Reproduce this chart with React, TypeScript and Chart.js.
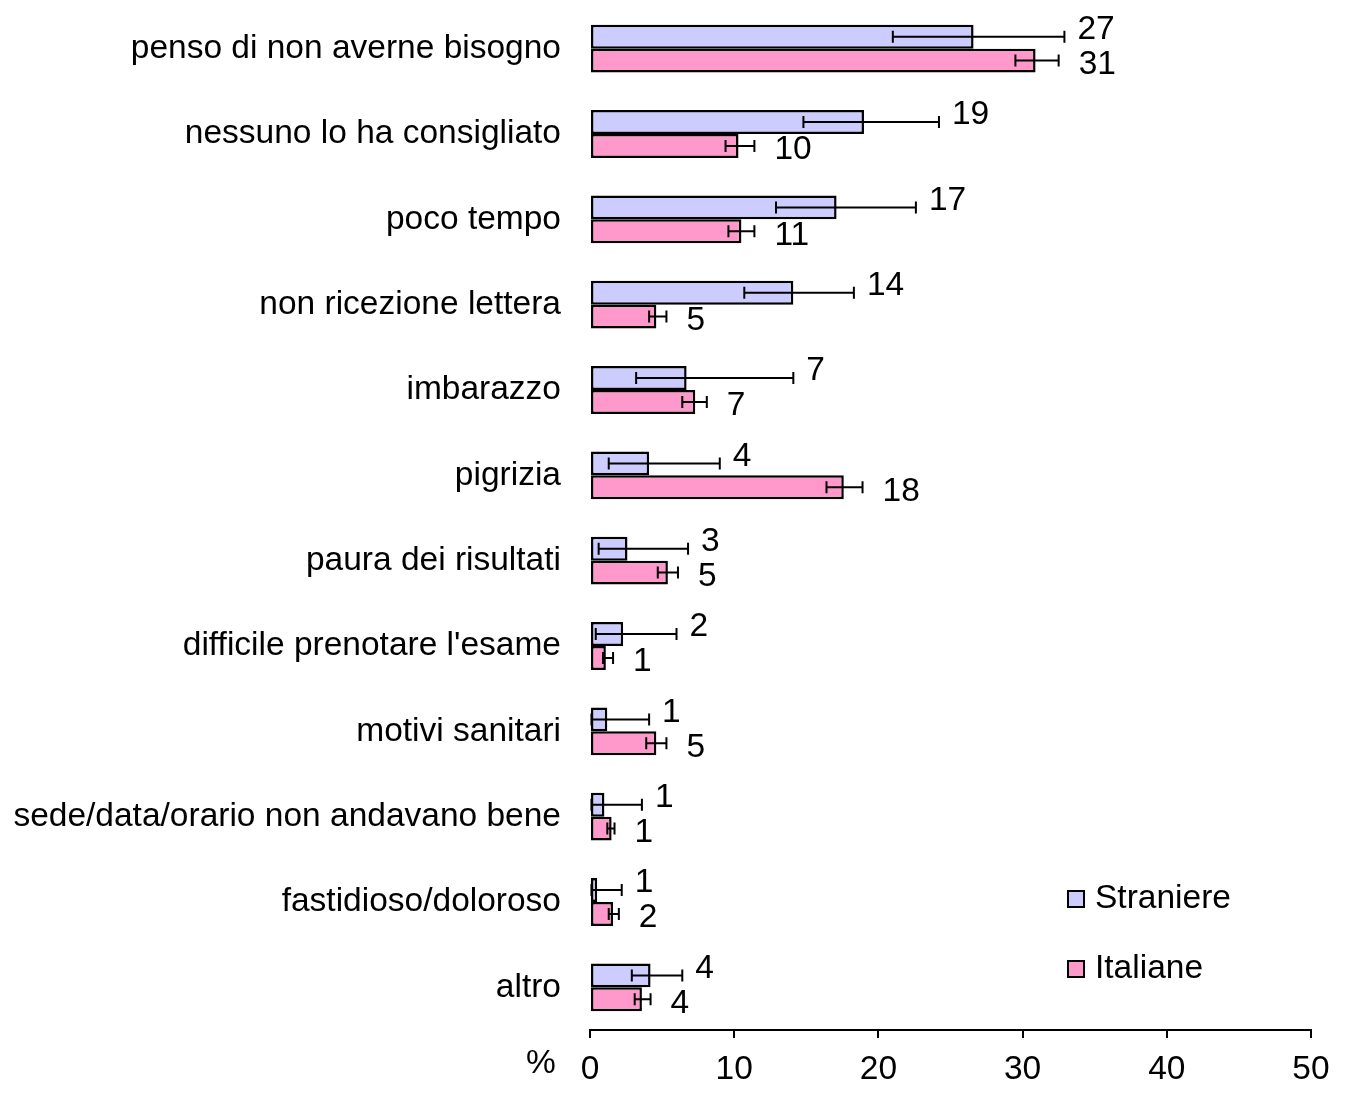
import React, { useEffect, useRef } from "react";
import { Chart, registerables } from "chart.js";

Chart.register(...registerables);

const categories = [
  "penso di non averne bisogno",
  "nessuno lo ha consigliato",
  "poco tempo",
  "non ricezione lettera",
  "imbarazzo",
  "pigrizia",
  "paura dei risultati",
  "difficile prenotare l'esame",
  "motivi sanitari",
  "sede/data/orario non andavano bene",
  "fastidioso/doloroso",
  "altro",
];

const seriesNames = ["Straniere", "Italiane"];

const straniere = [26.6, 19.0, 17.1, 14.1, 6.7, 4.1, 2.6, 2.3, 1.2, 1.0, 0.5, 4.2];
const straniereLow = [21.0, 14.8, 12.9, 10.7, 3.2, 1.3, 0.6, 0.4, 0.1, 0.1, 0.1, 2.9];
const straniereHigh = [32.9, 24.2, 22.6, 18.3, 14.1, 9.0, 6.8, 6.0, 4.1, 3.6, 2.2, 6.4];

const italiane = [30.9, 10.3, 10.5, 4.6, 7.3, 17.6, 5.4, 1.1, 4.6, 1.5, 1.6, 3.6];
const italianeLow = [29.5, 9.4, 9.6, 4.1, 6.4, 16.4, 4.7, 0.9, 3.9, 1.2, 1.3, 3.1];
const italianeHigh = [32.5, 11.4, 11.4, 5.3, 8.1, 18.9, 6.1, 1.6, 5.3, 1.7, 2.0, 4.2];

const straniereLabels = ["27", "19", "17", "14", "7", "4", "3", "2", "1", "1", "1", "4"];
const italianeLabels = ["31", "10", "11", "5", "7", "18", "5", "1", "5", "1", "2", "4"];

const xTicks = [0, 10, 20, 30, 40, 50];

const FONT = "'Liberation Sans', Arial, Helvetica, sans-serif";
const FONT_SIZE = 33.5;

const errorLows = [straniereLow, italianeLow];
const errorHighs = [straniereHigh, italianeHigh];
const valueLabels = [straniereLabels, italianeLabels];

const overlayPlugin = {
  id: "overlay",
  afterDatasetsDraw(chart: any) {
    const ctx = chart.ctx;
    const xScale = chart.scales.x;
    const area = chart.chartArea;
    ctx.save();
    // error bars
    ctx.strokeStyle = "#000";
    ctx.lineWidth = 2;
    chart.data.datasets.forEach((ds: any, di: number) => {
      const meta = chart.getDatasetMeta(di);
      meta.data.forEach((el: any, i: number) => {
        const y = el.y;
        const xl = xScale.getPixelForValue(errorLows[di][i]);
        const xh = xScale.getPixelForValue(errorHighs[di][i]);
        ctx.beginPath();
        ctx.moveTo(xl, y);
        ctx.lineTo(xh, y);
        ctx.moveTo(xl, y - 6);
        ctx.lineTo(xl, y + 6);
        ctx.moveTo(xh, y - 6);
        ctx.lineTo(xh, y + 6);
        ctx.stroke();
      });
    });
    // value labels
    ctx.fillStyle = "#000";
    ctx.font = `${FONT_SIZE}px ${FONT}`;
    ctx.textAlign = "left";
    ctx.textBaseline = "middle";
    chart.data.datasets.forEach((ds: any, di: number) => {
      const meta = chart.getDatasetMeta(di);
      const gap = di === 0 ? 13 : 20;
      const dy = di === 0 ? -7 : 4;
      meta.data.forEach((el: any, i: number) => {
        const xh = xScale.getPixelForValue(errorHighs[di][i]);
        ctx.fillText(valueLabels[di][i], xh + gap, el.y + dy);
      });
    });
    // percent sign
    ctx.textAlign = "center";
    ctx.fillText("%", area.left - 49, area.bottom + 34);
    // legend
    const lx = area.right - 243;
    const lys = [area.bottom - 131, area.bottom - 61];
    chart.data.datasets.forEach((ds: any, di: number) => {
      const cy = lys[di];
      ctx.fillStyle = ds.backgroundColor;
      ctx.fillRect(lx, cy - 8, 16, 16);
      ctx.strokeStyle = "#000";
      ctx.lineWidth = 2;
      ctx.strokeRect(lx, cy - 8, 16, 16);
      ctx.fillStyle = "#000";
      ctx.textAlign = "left";
      ctx.textBaseline = "middle";
      ctx.fillText(ds.label, lx + 27, cy);
    });
    ctx.restore();
  },
};

export default function App() {
  const canvasRef = useRef<HTMLCanvasElement | null>(null);

  useEffect(() => {
    if (!canvasRef.current) return;
    Chart.defaults.font.family = FONT;
    Chart.defaults.font.size = FONT_SIZE;
    Chart.defaults.color = "#000";
    const chart = new Chart(canvasRef.current, {
      type: "bar",
      data: {
        labels: categories,
        datasets: [
          {
            label: seriesNames[0],
            data: straniere,
            backgroundColor: "#CCCCFF",
            borderColor: "#000",
            borderWidth: 2.5,
            borderSkipped: false,
            categoryPercentage: 0.56,
            barPercentage: 1.0,
          },
          {
            label: seriesNames[1],
            data: italiane,
            backgroundColor: "#FF99CC",
            borderColor: "#000",
            borderWidth: 2.5,
            borderSkipped: false,
            categoryPercentage: 0.56,
            barPercentage: 1.0,
          },
        ],
      },
      options: {
        indexAxis: "y",
        responsive: false,
        animation: false,
        devicePixelRatio: 1,
        layout: { padding: { top: 6, right: 34, bottom: 0, left: 0 } },
        plugins: {
          legend: { display: false },
          tooltip: { enabled: false },
        },
        scales: {
          x: {
            type: "linear",
            min: 0,
            max: 50,
            afterBuildTicks: (scale: any) => {
              scale.ticks = xTicks.map((v) => ({ value: v }));
            },
            afterFit: (scale: any) => {
              scale.height = 65;
              scale.paddingLeft = 0;
              scale.paddingRight = 0;
            },
            ticks: {
              padding: 12,
              color: "#000",
              font: { size: FONT_SIZE, family: FONT },
            },
            grid: {
              display: true,
              drawOnChartArea: false,
              drawTicks: true,
              tickLength: 8,
              color: "#000",
              lineWidth: 2,
            },
            border: { display: true, color: "#000", width: 2 },
          },
          y: {
            type: "category",
            afterFit: (scale: any) => {
              scale.width = 590;
              scale.paddingTop = 0;
              scale.paddingBottom = 0;
            },
            ticks: {
              padding: 29,
              color: "#000",
              font: { size: FONT_SIZE, family: FONT },
            },
            grid: { display: false, drawTicks: false },
            border: { display: false },
          },
        },
      },
      plugins: [overlayPlugin],
    } as any);
    return () => chart.destroy();
  }, []);

  return (
    <div style={{ position: "fixed", left: 0, top: 0, width: 1345, height: 1095, background: "#fff" }}>
      <canvas ref={canvasRef} width={1345} height={1095} style={{ display: "block" }} />
    </div>
  );
}
